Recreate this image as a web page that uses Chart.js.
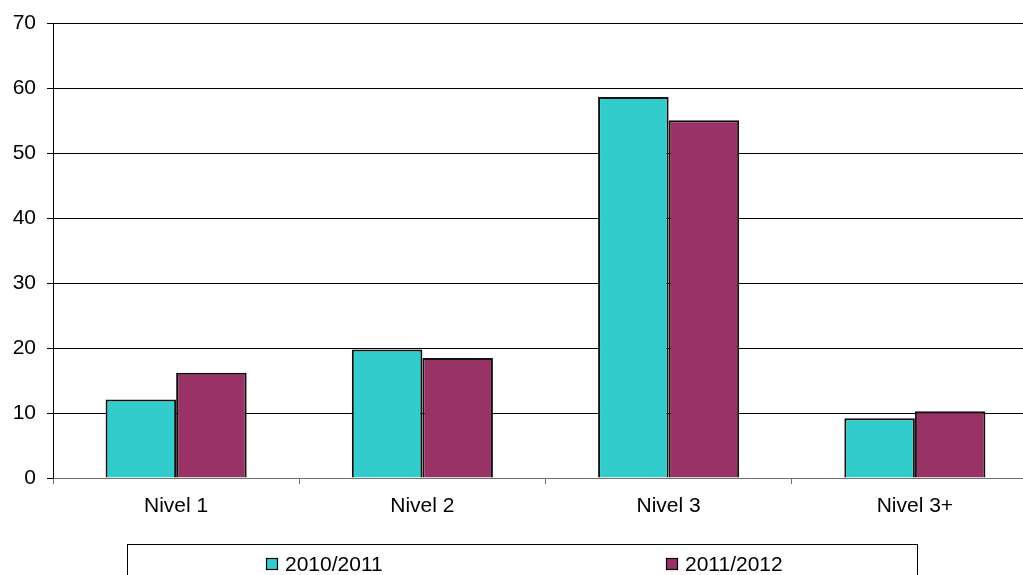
<!DOCTYPE html>
<html>
<head>
<meta charset="utf-8">
<script src="https://cdn.jsdelivr.net/npm/chart.js@4/dist/chart.umd.min.js"></script>
<style>
html,body{margin:0;padding:0;background:#fff;overflow:hidden;}
#wrap{position:absolute;left:0;top:0;width:1050px;height:575px;}
</style>
</head>
<body>
<div id="wrap"><canvas id="c" width="1050" height="575"></canvas></div>
<script>
const categories = ["Nivel 1", "Nivel 2", "Nivel 3", "Nivel 3+"];
const series2010 = [12.1, 19.8, 58.7, 9.2];
const series2011 = [16.2, 18.5, 55.1, 10.3];
const seriesLabels = ["2010/2011", "2011/2012"];
const seriesColors = ["#33CCCC", "#993366"];
const yTicks = [0, 10, 20, 30, 40, 50, 60, 70];

const FONT = "'Liberation Sans', Arial, sans-serif";

const legendPlugin = {
  id: 'boxLegend',
  afterDraw(chart) {
    const ctx = chart.ctx;
    ctx.save();
    ctx.strokeStyle = '#000';
    ctx.lineWidth = 1;
    ctx.strokeRect(127.5, 544.5, 790, 60);
    const xs = [266, 666];
    ctx.font = '21px ' + FONT;
    ctx.textBaseline = 'middle';
    chart.data.datasets.forEach((ds, i) => {
      const x = xs[i];
      ctx.fillStyle = ds.backgroundColor;
      ctx.fillRect(x, 558, 12, 12);
      ctx.strokeStyle = '#000';
      ctx.lineWidth = 1.2;
      ctx.strokeRect(x + 0.5, 558.5, 11, 11);
      ctx.fillStyle = '#000';
      ctx.fillText(ds.label, x + 19, 565);
    });
    ctx.restore();
  }
};

new Chart(document.getElementById('c'), {
  type: 'bar',
  data: {
    labels: categories,
    datasets: [
      { label: seriesLabels[0], data: series2010, backgroundColor: seriesColors[0], borderColor: '#111', borderWidth: 2, barPercentage: 1, categoryPercentage: 0.573 },
      { label: seriesLabels[1], data: series2011, backgroundColor: seriesColors[1], borderColor: '#111', borderWidth: 2, barPercentage: 1, categoryPercentage: 0.573 }
    ]
  },
  options: {
    responsive: false,
    animation: false,
    devicePixelRatio: 1,
    layout: { padding: { top: 23.5, right: 12, bottom: 0, left: 0 } },
    plugins: { legend: { display: false }, tooltip: { enabled: false } },
    scales: {
      x: {
        afterFit(scale) { scale.height = 97; },
        grid: { display: true, drawOnChartArea: false, offset: true, tickLength: 6, color: '#707070', lineWidth: 1 },
        border: { display: true, color: '#707070', width: 1 },
        ticks: { color: '#000', font: { family: FONT, size: 21 }, padding: 10, maxRotation: 0 }
      },
      y: {
        min: 0, max: 70,
        afterFit(scale) { scale.width = 53; },
        afterBuildTicks(scale) { scale.ticks = yTicks.map(v => ({ value: v })); },
        grid: { color: '#000', lineWidth: 1, tickLength: 6, drawTicks: true },
        border: { display: true, color: '#000', width: 1 },
        ticks: { color: '#000', font: { family: FONT, size: 21 }, padding: 11 }
      }
    }
  },
  plugins: [legendPlugin]
});
</script>
</body>
</html>
